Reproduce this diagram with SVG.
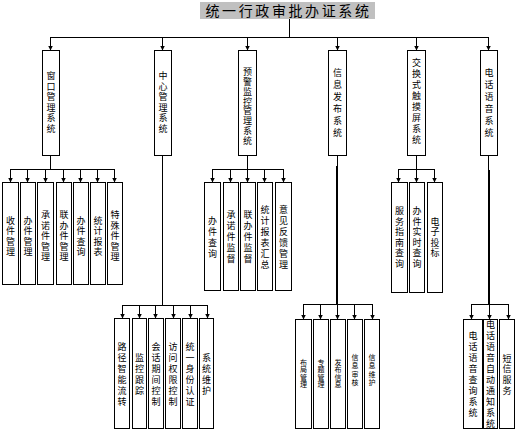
<svg xmlns="http://www.w3.org/2000/svg" width="516" height="430" viewBox="0 0 516 430">
<defs>
<style>
.b{fill:#fff;stroke:#000;stroke-width:1}
.t{font-family:"Noto Sans CJK SC","Noto Sans CJK TC",sans-serif;font-size:9px;fill:#000;text-anchor:middle}
.v{writing-mode:vertical-rl;letter-spacing:1.6px}
.s{font-size:7px}
.c line{stroke:#000;stroke-width:1;fill:none}
.c line.k{stroke-width:2}
.c line.a{marker-end:url(#ah)}
</style>
<marker id="ah" viewBox="0 0 5 5" refX="5" refY="2.5" markerWidth="5" markerHeight="5" markerUnits="userSpaceOnUse" orient="auto"><path d="M0,0L5,2.5L0,5z" fill="#000"/></marker>
</defs>
<rect width="516" height="430" fill="#fff"/>

<g id="connectors" class="c">
<line x1="289.5" y1="19" x2="289.5" y2="37.5"/>
<line x1="50" y1="37.5" x2="489" y2="37.5"/>
<line class="a" x1="50.5" y1="37.5" x2="50.5" y2="50.5"/>
<line class="a" x1="162.5" y1="37.5" x2="162.5" y2="50.5"/>
<line class="a" x1="247.5" y1="37.5" x2="247.5" y2="50.5"/>
<line class="a" x1="337.5" y1="37.5" x2="337.5" y2="50.5"/>
<line class="a" x1="416.5" y1="37.5" x2="416.5" y2="50.5"/>
<line class="a" x1="488.5" y1="37.5" x2="488.5" y2="50.5"/>

<line x1="50.5" y1="155" x2="50.5" y2="169.5"/>
<line x1="10" y1="169.5" x2="115" y2="169.5"/>
<line class="a" x1="10.5" y1="169.5" x2="10.5" y2="182.5"/>
<line class="a" x1="27.5" y1="169.5" x2="27.5" y2="182.5"/>
<line class="a" x1="45.5" y1="169.5" x2="45.5" y2="182.5"/>
<line class="a" x1="63.5" y1="169.5" x2="63.5" y2="182.5"/>
<line class="a" x1="80.5" y1="169.5" x2="80.5" y2="182.5"/>
<line class="a" x1="97.5" y1="169.5" x2="97.5" y2="182.5"/>
<line class="a" x1="114.5" y1="169.5" x2="114.5" y2="182.5"/>

<line x1="247.5" y1="155" x2="247.5" y2="169.5"/>
<line x1="212" y1="169.5" x2="284" y2="169.5"/>
<line class="a" x1="212.5" y1="169.5" x2="212.5" y2="182.5"/>
<line class="a" x1="230.5" y1="169.5" x2="230.5" y2="182.5"/>
<line class="a" x1="247.5" y1="169.5" x2="247.5" y2="182.5"/>
<line class="a" x1="264.5" y1="169.5" x2="264.5" y2="182.5"/>
<line class="a" x1="283.5" y1="169.5" x2="283.5" y2="182.5"/>

<line x1="416.5" y1="155" x2="416.5" y2="169.5"/>
<line x1="398" y1="169.5" x2="435" y2="169.5"/>
<line class="a" x1="398.5" y1="169.5" x2="398.5" y2="182.5"/>
<line class="a" x1="416.5" y1="169.5" x2="416.5" y2="182.5"/>
<line class="a" x1="434.5" y1="169.5" x2="434.5" y2="182.5"/>

<line x1="162.5" y1="155" x2="162.5" y2="305.5"/>
<line x1="122" y1="305.5" x2="208" y2="305.5"/>
<line class="a" x1="122.5" y1="305.5" x2="122.5" y2="318.5"/>
<line class="a" x1="139.5" y1="305.5" x2="139.5" y2="318.5"/>
<line class="a" x1="155.5" y1="305.5" x2="155.5" y2="318.5"/>
<line class="a" x1="173.5" y1="305.5" x2="173.5" y2="318.5"/>
<line class="a" x1="190.5" y1="305.5" x2="190.5" y2="318.5"/>
<line class="a" x1="207.5" y1="305.5" x2="207.5" y2="318.5"/>

<line x1="337.5" y1="155" x2="337.5" y2="166"/>
<line class="k" x1="337" y1="166" x2="337" y2="305"/>
<line x1="303" y1="304.5" x2="373" y2="304.5"/>
<line class="a" x1="303.5" y1="304.5" x2="303.5" y2="319.5"/>
<line class="a" x1="320.5" y1="304.5" x2="320.5" y2="319.5"/>
<line class="a" x1="337.5" y1="304.5" x2="337.5" y2="319.5"/>
<line class="a" x1="354.5" y1="304.5" x2="354.5" y2="319.5"/>
<line class="a" x1="372.5" y1="304.5" x2="372.5" y2="319.5"/>

<line x1="488.5" y1="155" x2="488.5" y2="170"/>
<line class="k" x1="489" y1="170" x2="489" y2="305"/>
<line x1="471" y1="304.5" x2="509" y2="304.5"/>
<line class="a" x1="471.5" y1="304.5" x2="471.5" y2="319.5"/>
<line class="a" x1="489.5" y1="304.5" x2="489.5" y2="319.5"/>
<line class="a" x1="508.5" y1="304.5" x2="508.5" y2="319.5"/>
</g>

<g id="root">
<rect x="200" y="2" width="175" height="17" fill="#c0c0c0"/>
<text class="t" x="288.5" y="16" style="font-size:14px;letter-spacing:2.6px">统一行政审批办证系统</text>
</g>

<g id="n1"><rect class="b" x="42.5" y="50.5" width="17" height="105"/>
<text class="t v" x="51" y="102.8">窗口管理系统</text></g>
<g id="n2"><rect class="b" x="154.5" y="50.5" width="17" height="105"/>
<text class="t v" x="163" y="102.8">中心管理系统</text></g>
<g id="n3"><rect class="b" x="238.5" y="50.5" width="18" height="105"/>
<text class="t v" x="247.5" y="106.4" style="letter-spacing:0.8px">预警监控管理系统</text></g>
<g id="n4"><rect class="b" x="328.5" y="50.5" width="18" height="105"/>
<text class="t v" x="337.5" y="104" style="letter-spacing:3px">信息发布系统</text></g>
<g id="n5"><rect class="b" x="407.5" y="50.5" width="18" height="105"/>
<text class="t v" x="416.5" y="102.5" style="letter-spacing:2px">交换式触摸屏系统</text></g>
<g id="n6"><rect class="b" x="480.5" y="50.5" width="17" height="105"/>
<text class="t v" x="489" y="104" style="letter-spacing:3px">电话语音系统</text></g>

<g id="n1-1"><rect class="b" x="2.5" y="182.5" width="16" height="102"/>
<text class="t v" x="10.5" y="236.8" style="letter-spacing:1.5px">收件管理</text></g>
<g id="n1-2"><rect class="b" x="20.5" y="182.5" width="15" height="102"/>
<text class="t v" x="28" y="236.8" style="letter-spacing:1.5px">办件管理</text></g>
<g id="n1-3"><rect class="b" x="37.5" y="182.5" width="16" height="102"/>
<text class="t v" x="45.5" y="236.8" style="letter-spacing:1.5px">承诺件管理</text></g>
<g id="n1-4"><rect class="b" x="56.5" y="182.5" width="15" height="102"/>
<text class="t v" x="64" y="236.8" style="letter-spacing:1.5px">联办件管理</text></g>
<g id="n1-5"><rect class="b" x="73.5" y="182.5" width="15" height="102"/>
<text class="t v" x="81" y="236.8" style="letter-spacing:1.5px">办件查询</text></g>
<g id="n1-6"><rect class="b" x="90.5" y="182.5" width="15" height="102"/>
<text class="t v" x="98" y="236.8" style="letter-spacing:1.5px">统计报表</text></g>
<g id="n1-7"><rect class="b" x="107.5" y="182.5" width="15" height="102"/>
<text class="t v" x="115" y="236.8" style="letter-spacing:1.5px">特殊件管理</text></g>

<g id="n3-1"><rect class="b" x="204.5" y="182.5" width="16" height="108"/>
<text class="t v" x="212.5" y="238" style="letter-spacing:2px">办件查询</text></g>
<g id="n3-2"><rect class="b" x="223.5" y="182.5" width="15" height="108"/>
<text class="t v" x="231" y="238" style="letter-spacing:2px">承诺件监督</text></g>
<g id="n3-3"><rect class="b" x="240.5" y="182.5" width="15" height="108"/>
<text class="t v" x="248" y="238" style="letter-spacing:2px">联办件监督</text></g>
<g id="n3-4"><rect class="b" x="257.5" y="182.5" width="15" height="108"/>
<text class="t v" x="265" y="238" style="letter-spacing:2px">统计报表汇总</text></g>
<g id="n3-5"><rect class="b" x="275.5" y="182.5" width="16" height="108"/>
<text class="t v" x="283.5" y="238" style="letter-spacing:2px">意见反馈管理</text></g>

<g id="n5-1"><rect class="b" x="391.5" y="182.5" width="16" height="110"/>
<text class="t v" x="399.5" y="237.8" style="letter-spacing:1.5px">服务指南查询</text></g>
<g id="n5-2"><rect class="b" x="409.5" y="182.5" width="15" height="110"/>
<text class="t v" x="417" y="237.8" style="letter-spacing:1.5px">办件实时查询</text></g>
<g id="n5-3"><rect class="b" x="427.5" y="182.5" width="15" height="110"/>
<text class="t v" x="435" y="237.8" style="letter-spacing:1.5px">电子投标</text></g>

<g id="n2-1"><rect class="b" x="114.5" y="318.5" width="15" height="110"/>
<text class="t v" x="122" y="375" style="letter-spacing:2px">路径智能流转</text></g>
<g id="n2-2"><rect class="b" x="132.5" y="318.5" width="14" height="110"/>
<text class="t v" x="139.5" y="375" style="letter-spacing:2px">监控跟踪</text></g>
<g id="n2-3"><rect class="b" x="148.5" y="318.5" width="15" height="110"/>
<text class="t v" x="156" y="375" style="letter-spacing:2px">会话期间控制</text></g>
<g id="n2-4"><rect class="b" x="165.5" y="318.5" width="15" height="110"/>
<text class="t v" x="173" y="375" style="letter-spacing:2px">访问权限控制</text></g>
<g id="n2-5"><rect class="b" x="182.5" y="318.5" width="15" height="110"/>
<text class="t v" x="190" y="375" style="letter-spacing:2px">统一身份认证</text></g>
<g id="n2-6"><rect class="b" x="199.5" y="318.5" width="14" height="110"/>
<text class="t v" x="206.5" y="375" style="letter-spacing:2px">系统维护</text></g>

<g id="n4-1"><rect class="b" x="295.5" y="319.5" width="16" height="109"/>
<text class="t v s" x="303.5" y="373.5" style="letter-spacing:0.5px">布局管理</text></g>
<g id="n4-2"><rect class="b" x="313.5" y="319.5" width="15" height="109"/>
<text class="t v s" x="321" y="373.5" style="letter-spacing:0.5px">专题管理</text></g>
<g id="n4-3"><rect class="b" x="330.5" y="319.5" width="15" height="109"/>
<text class="t v s" x="338" y="373.5" style="letter-spacing:0.5px">发布信息</text></g>
<g id="n4-4"><rect class="b" x="347.5" y="319.5" width="15" height="109"/>
<text class="t v s" x="355" y="370.5" style="letter-spacing:1.2px">信息审核</text></g>
<g id="n4-5"><rect class="b" x="364.5" y="319.5" width="15" height="109"/>
<text class="t v s" x="372" y="370.5" style="letter-spacing:1.2px">信息维护</text></g>

<g id="n6-1"><rect class="b" x="463.5" y="319.5" width="19" height="109"/>
<text class="t v" x="473" y="375" style="letter-spacing:2px">电话语音查询系统</text></g>
<g id="n6-2"><rect class="b" x="483.5" y="319.5" width="14" height="109"/>
<text class="t v" x="490.5" y="375" style="letter-spacing:1.9px">电话语音自动通知系统</text></g>
<g id="n6-3"><rect class="b" x="499.5" y="319.5" width="15" height="109"/>
<text class="t v" x="507" y="375" style="letter-spacing:1.6px">短信服务</text></g>
</svg>
